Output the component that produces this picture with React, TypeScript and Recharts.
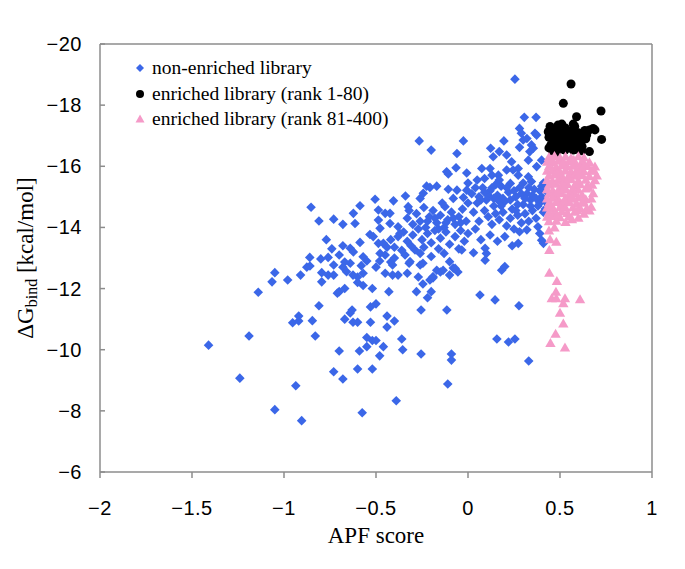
import React from 'react';
import { ScatterChart, Scatter, XAxis, YAxis, ReferenceLine } from 'recharts';

const xTicks = [-2, -1.5, -1, -0.5, 0, 0.5, 1];
const yTicks = [-20, -18, -16, -14, -12, -10, -8, -6];

const seriesNames = ['non-enriched library', 'enriched library (rank 1-80)', 'enriched library (rank 81-400)'];

// [APF score, dG bind]
const nonEnriched: [number, number][] = [
  [-1.41, -10.15], [-1.24, -9.07], [-1.19, -10.45], [-1.14, -11.88], [-1.065, -12.22], [-1.05, -12.52],
  [-1.05, -8.04], [-0.98, -12.28], [-0.953, -10.88], [-0.92, -10.94], [-0.92, -11.1], [-0.936, -8.82],
  [-0.904, -7.68], [-0.91, -12.44], [-0.876, -12.7], [-0.859, -12.74], [-0.846, -10.95], [-0.83, -10.45],
  [-0.81, -11.44], [-0.795, -12.52], [-0.795, -12.22], [-0.76, -12.44], [-0.8, -12.97], [-0.853, -14.66],
  [-0.81, -14.21], [-0.86, -13.02], [-0.76, -13.02], [-0.73, -9.28], [-0.74, -13.3], [-0.77, -13.6],
  [0.065, -11.79], [0.147, -11.63], [0.277, -11.44], [0.157, -10.35], [0.22, -10.25], [0.255, -10.35],
  [0.33, -9.63], [-0.115, -11.3], [-0.255, -11.3], [-0.255, -9.86], [-0.09, -9.86], [-0.09, -9.66],
  [-0.11, -8.88], [-0.39, -8.33], [-0.575, -7.94], [-0.36, -10.35], [-0.355, -10.0], [-0.48, -9.8],
  [-0.52, -9.37], [-0.6, -9.37], [-0.68, -9.04], [-0.7, -9.96], [-0.59, -9.96], [-0.55, -10.1],
  [-0.46, -10.1], [-0.55, -10.4], [-0.52, -10.3], [-0.5, -10.3], [-0.44, -10.74], [-0.4, -10.94],
  [-0.44, -11.1], [-0.53, -10.9], [-0.6, -10.9], [-0.625, -10.9], [-0.67, -11.0], [-0.63, -11.3],
  [-0.64, -11.2], [-0.53, -11.4], [-0.5, -11.5], [-0.43, -11.9], [-0.28, -11.9], [-0.2, -11.9],
  [-0.22, -11.7], [-0.7, -11.9], [-0.67, -12.0], [-0.71, -11.85], [-0.52, -12.0], [-0.57, -12.1],
  [-0.6, -12.2], [-0.1, -12.44], [-0.055, -12.54], [-0.08, -12.67], [-0.17, -12.6], [-0.15, -12.54],
  [-0.19, -12.35], [-0.26, -12.77], [-0.245, -12.83], [-0.27, -12.38], [-0.245, -12.15], [-0.45, -12.5],
  [-0.41, -12.44], [-0.38, -12.44], [-0.33, -12.5], [-0.32, -12.83], [-0.41, -12.77], [-0.42, -12.87],
  [-0.6, -12.38], [-0.57, -12.5], [-0.625, -12.44], [-0.73, -12.77], [-0.68, -12.7], [-0.64, -12.83],
  [-0.67, -12.87], [-0.73, -12.44],
  [-0.64, -13.32], [-0.623, -13.2], [-0.587, -13.51], [-0.57, -13.04], [-0.533, -13.77], [-0.515, -13.7],
  [-0.487, -13.48], [-0.46, -13.48], [-0.478, -13.15], [-0.45, -13.1], [-0.342, -13.1], [-0.315, -12.88],
  [-0.288, -13.26], [-0.26, -13.15], [-0.1, -12.88], [-0.135, -12.6], [-0.07, -12.66], [-0.207, -12.28],
  [-0.19, -12.39],
  [-0.42, -13.6], [-0.38, -13.7], [-0.35, -13.85], [-0.33, -13.55], [-0.3, -13.75], [-0.27, -13.95],
  [-0.25, -13.6], [-0.22, -13.8], [-0.2, -13.5], [-0.18, -13.9], [-0.15, -13.65], [-0.12, -13.85],
  [-0.1, -13.45], [-0.07, -13.7], [-0.04, -13.9], [-0.02, -13.55], [-0.4, -13.35], [-0.36, -13.25],
  [-0.31, -13.4], [-0.24, -13.35], [-0.16, -13.3], [-0.13, -13.15], [-0.05, -13.3], [-0.2, -13.05],
  [-0.265, -16.83], [-0.2, -16.53], [-0.025, -16.83], [-0.06, -16.42], [-0.116, -15.82], [-0.107, -15.75],
  [-0.065, -15.95], [-0.007, -15.78], [-0.225, -15.35], [-0.207, -15.31], [-0.17, -15.35], [-0.107, -15.25],
  [-0.26, -14.95], [-0.243, -15.12], [-0.34, -15.03], [-0.405, -14.87], [-0.325, -14.68], [-0.505, -14.92],
  [-0.487, -14.57], [-0.45, -14.46], [-0.424, -14.46], [-0.587, -14.71], [-0.623, -14.46], [-0.614, -14.13],
  [-0.68, -14.1], [-0.73, -14.27], [-0.487, -14.24], [-0.478, -13.97], [-0.424, -14.13], [-0.38, -14.02],
  [-0.37, -13.8], [-0.125, -14.68], [-0.08, -14.95], [-0.06, -15.22], [-0.025, -14.98], [-0.007, -15.22],
  [-0.33, -14.3], [-0.3, -14.1], [-0.28, -14.45], [-0.26, -14.2], [-0.23, -14.0], [-0.21, -14.35],
  [-0.19, -14.55], [-0.17, -14.15], [-0.15, -14.4], [-0.13, -14.0], [-0.11, -14.25], [-0.09, -14.5],
  [-0.07, -14.1], [-0.05, -14.35], [-0.03, -14.6], [-0.01, -14.2], [-0.32, -14.55], [-0.24, -14.65],
  [-0.14, -14.8],
  [0.255, -18.85], [0.306, -17.6], [0.37, -17.6], [0.28, -17.24], [0.29, -17.08], [0.364, -17.08],
  [0.373, -17.02], [0.3, -16.86], [0.32, -16.91], [0.345, -16.7], [0.355, -16.59], [0.336, -16.48],
  [0.195, -16.83], [0.123, -16.59], [0.137, -16.31], [0.17, -16.48], [0.21, -16.37], [0.28, -16.62],
  [0.237, -16.15], [0.273, -15.93], [0.328, -16.2], [0.373, -15.99], [0.4, -16.2], [0.075, -15.93],
  [0.12, -15.93], [0.13, -15.71], [0.165, -15.71], [0.21, -15.88], [0.245, -15.88], [0.273, -15.71],
  [0.17, -15.55], [0.23, -15.44], [0.328, -15.66], [0.345, -15.5], [0.273, -13.48], [0.28, -13.86],
  [0.32, -13.92], [0.38, -14.02], [0.39, -13.8], [0.4, -13.58], [0.41, -13.48], [-0.034, -13.26],
  [0.03, -13.17], [0.093, -13.32], [0.1, -13.15], [0.093, -12.93], [0.183, -12.6], [0.2, -12.72],
  [0.02, -15.1], [0.05, -14.8], [0.08, -15.3], [0.1, -14.9], [0.12, -15.2], [0.14, -14.7],
  [0.16, -15.05], [0.18, -15.35], [0.2, -14.85], [0.22, -15.15], [0.24, -14.6], [0.26, -15.0],
  [0.28, -15.3], [0.3, -14.75], [0.32, -15.1], [0.34, -14.9], [0.36, -15.25], [0.38, -14.7],
  [0.4, -15.0], [0.42, -14.85], [0.03, -14.5], [0.06, -14.2], [0.09, -14.55], [0.11, -14.35],
  [0.13, -14.1], [0.15, -14.45], [0.17, -14.25], [0.19, -14.5], [0.21, -14.05], [0.23, -14.3],
  [0.25, -13.95], [0.27, -14.4], [0.29, -14.15], [0.31, -14.45], [0.33, -14.2], [0.35, -14.55],
  [0.37, -14.3], [0.41, -14.5], [0.0, -13.8], [0.04, -13.95], [0.07, -13.6], [0.12, -13.75],
  [0.16, -13.55], [0.2, -13.7], [0.24, -13.4], [0.0, -14.8], [0.04, -15.3], [0.15, -15.4],
  [0.3, -15.45], [0.4, -15.35], [0.43, -15.15], [0.42, -14.6],
  [-0.68, -13.4], [-0.7, -13.1], [-0.66, -12.55], [-0.58, -12.75], [-0.55, -12.9], [-0.5, -12.7],
  [-0.48, -12.9], [-0.44, -13.35], [-0.4, -13.0], [0.0, -15.45], [0.05, -15.55], [0.09, -15.6],
  [0.25, -15.2], [0.35, -15.05], [0.19, -14.95], [0.31, -14.95], [0.11, -15.05], [0.39, -14.8],
  [0.13, -15.3], [0.17, -14.85], [0.21, -15.3], [0.23, -14.9], [0.27, -14.75], [0.29, -15.1],
  [0.33, -15.3], [0.37, -14.95], [0.39, -15.2], [0.41, -15.45], [0.07, -14.9], [0.09, -15.15],
  [0.34, -14.7], [0.26, -14.55], [0.18, -14.7], [0.42, -15.3], [0.14, -14.95], [0.06, -15.0],
  [-0.22, -14.2], [-0.18, -14.3], [-0.12, -14.15], [-0.08, -14.3], [-0.04, -14.15], [-0.16, -13.95],
];

const enrichedTop: [number, number][] = [
  [0.56, -18.69], [0.518, -18.06], [0.723, -17.81], [0.726, -16.88], [0.59, -17.62], [0.51, -17.38],
  [0.572, -17.38], [0.58, -17.3], [0.68, -17.24], [0.69, -17.19], [0.66, -17.19], [0.635, -17.17],
  [0.618, -17.02], [0.645, -17.02], [0.446, -17.3], [0.436, -17.13], [0.618, -16.51], [0.66, -16.48],
  [0.572, -16.53], [0.527, -16.53], [0.473, -16.59],
  [0.44, -16.95], [0.45, -16.7], [0.46, -17.05], [0.47, -16.85], [0.48, -17.2], [0.49, -16.65],
  [0.5, -16.95], [0.51, -17.1], [0.52, -16.8], [0.53, -17.0], [0.54, -16.7], [0.55, -17.15],
  [0.56, -16.9], [0.57, -17.05], [0.58, -16.75], [0.59, -16.95], [0.6, -17.1], [0.61, -16.8],
  [0.55, -16.6], [0.5, -16.75], [0.46, -16.5], [0.44, -16.6], [0.53, -17.25], [0.49, -17.35],
  [0.57, -17.2], [0.62, -16.65], [0.64, -16.9], [0.47, -17.1], [0.52, -16.55], [0.58, -16.55],
  [0.6, -16.7], [0.48, -16.45],
];

const enrichedRest: [number, number][] = [
  [0.44, -16.3], [0.47, -16.34], [0.5, -16.28], [0.53, -16.32], [0.56, -16.27], [0.6, -16.33], [0.63, -16.29],
  [0.43, -16.15], [0.46, -16.12], [0.49, -16.18], [0.52, -16.14], [0.55, -16.17], [0.58, -16.11], [0.62, -16.16], [0.66, -16.13],
  [0.44, -16.0], [0.48, -15.97], [0.51, -16.03], [0.54, -15.99], [0.57, -16.02], [0.61, -15.98], [0.65, -16.01], [0.69, -15.99],
  [0.43, -15.85], [0.46, -15.88], [0.5, -15.83], [0.53, -15.86], [0.56, -15.82], [0.59, -15.87], [0.63, -15.84], [0.67, -15.86],
  [0.44, -15.7], [0.47, -15.73], [0.51, -15.68], [0.55, -15.72], [0.58, -15.69], [0.62, -15.71], [0.66, -15.67], [0.7, -15.7],
  [0.43, -15.55], [0.46, -15.52], [0.49, -15.57], [0.52, -15.54], [0.56, -15.58], [0.6, -15.53], [0.64, -15.56], [0.69, -15.54],
  [0.44, -15.4], [0.48, -15.43], [0.51, -15.38], [0.54, -15.42], [0.58, -15.39], [0.61, -15.41], [0.65, -15.37],
  [0.43, -15.25], [0.46, -15.22], [0.5, -15.27], [0.53, -15.24], [0.57, -15.26], [0.6, -15.23], [0.64, -15.27], [0.68, -15.12],
  [0.44, -15.1], [0.47, -15.08], [0.51, -15.12], [0.55, -15.09], [0.58, -15.11], [0.62, -15.07], [0.67, -14.95],
  [0.43, -14.95], [0.46, -14.97], [0.49, -14.93], [0.53, -14.96], [0.56, -14.94], [0.6, -14.98], [0.64, -14.92],
  [0.44, -14.8], [0.48, -14.83], [0.51, -14.78], [0.55, -14.82], [0.59, -14.79], [0.63, -14.81], [0.67, -14.68],
  [0.43, -14.65], [0.46, -14.62], [0.5, -14.67], [0.53, -14.64], [0.57, -14.66], [0.61, -14.63], [0.66, -14.55],
  [0.44, -14.5], [0.47, -14.48], [0.51, -14.52], [0.54, -14.47], [0.58, -14.51], [0.63, -14.45],
  [0.43, -14.35], [0.46, -14.37], [0.5, -14.33], [0.55, -14.36], [0.6, -14.32],
  [0.44, -14.2], [0.48, -14.22], [0.53, -14.18], [0.44, -13.9], [0.47, -14.0],
  [0.455, -16.22], [0.515, -16.08], [0.575, -16.21], [0.635, -16.05], [0.485, -15.78], [0.545, -15.62],
  [0.605, -15.77], [0.455, -15.47], [0.525, -15.33], [0.595, -15.47], [0.655, -15.3], [0.485, -15.17],
  [0.565, -15.02], [0.625, -14.87], [0.455, -14.72], [0.525, -14.88], [0.595, -14.57], [0.485, -14.42],
  [0.565, -14.27], [0.645, -14.62], [0.675, -15.4], [0.685, -15.85],
  [0.446, -13.61], [0.48, -13.53], [0.442, -13.26], [0.442, -12.52], [0.483, -12.25], [0.478, -11.9],
  [0.455, -11.68], [0.48, -11.68], [0.527, -11.68], [0.518, -11.52], [0.609, -11.65], [0.5, -11.21],
  [0.518, -10.86], [0.476, -10.52], [0.448, -10.22], [0.527, -10.07],
];

const BLUE = '#3b67e8';
const BLACK = '#000000';
const PINK = '#f59ac8';
const AXIS = '#8c8c8c';

const toPoints = (arr: [number, number][]) => arr.map(([x, y]) => ({ x, y }));
const fmt = (v: number) => String(v).replace('-', '\u2212');

const Diamond = (p: any) => (
  <path d={`M${p.cx},${p.cy - 4.8}L${p.cx + 4.8},${p.cy}L${p.cx},${p.cy + 4.8}L${p.cx - 4.8},${p.cy}Z`} fill={BLUE} />
);
const Dot = (p: any) => <circle cx={p.cx} cy={p.cy} r={4.5} fill={BLACK} />;
const Tri = (p: any) => (
  <path d={`M${p.cx},${p.cy - 5}L${p.cx + 5.2},${p.cy + 4}L${p.cx - 5.2},${p.cy + 4}Z`} fill={PINK} />
);

const tickFont = { fontFamily: '"Liberation Sans", Arial, sans-serif', fontSize: 20, fill: '#000', letterSpacing: 0.5 };
const serif = '"Liberation Serif", "Times New Roman", serif';

const XTick = (p: any) => (
  <text x={p.x} y={515} textAnchor="middle" {...tickFont}>{fmt(p.payload.value)}</text>
);
const YTick = (p: any) => (
  <text x={82} y={p.y + 7} textAnchor="end" {...tickFont}>{fmt(p.payload.value)}</text>
);

const legendMarks = [
  <path key="d" d="M6,2L10,6L6,10L2,6Z" fill={BLUE} />,
  <circle key="c" cx={6} cy={6} r={4} fill={BLACK} />,
  <path key="t" d="M6,1.5L10.5,9.5L1.5,9.5Z" fill={PINK} />,
];
const legendRows = [68, 93.5, 119];

export default function App() {
  return (
    <div style={{ position: 'absolute', left: 0, top: 0, width: 685, height: 569, background: '#fff' }}>
      <ScatterChart width={685} height={569} margin={{ top: 44, right: 33, bottom: 37, left: 0 }}>
        <XAxis
          type="number"
          dataKey="x"
          domain={[-2, 1]}
          ticks={xTicks}
          height={60}
          stroke={AXIS}
          strokeWidth={1.5}
          tick={<XTick />}
          label={{ content: () => (
            <text x={376} y={543} textAnchor="middle" fontFamily={serif} fontSize={23} fill="#000">APF score</text>
          ) }}
        />
        <YAxis
          type="number"
          dataKey="y"
          domain={[-20, -6]}
          ticks={yTicks}
          reversed
          width={100}
          stroke={AXIS}
          strokeWidth={1.5}
          tickSize={-5}
          tick={<YTick />}
          label={{ content: () => (
            <text transform="translate(33,258) rotate(-90)" textAnchor="middle" fontFamily={serif} fontSize={23} fill="#000">
              <tspan>ΔG</tspan>
              <tspan fontSize={16} dy={4}>bind</tspan>
              <tspan dy={-4}> [kcal/mol]</tspan>
            </text>
          ) }}
        />
        <ReferenceLine x={1} stroke={AXIS} strokeWidth={1.5} />
        <ReferenceLine y={-20} stroke={AXIS} strokeWidth={1.5} />
        <Scatter name={seriesNames[0]} data={toPoints(nonEnriched)} shape={Diamond} isAnimationActive={false} />
        <Scatter name={seriesNames[1]} data={toPoints(enrichedTop)} shape={Dot} isAnimationActive={false} />
        <Scatter name={seriesNames[2]} data={toPoints(enrichedRest)} shape={Tri} isAnimationActive={false} />
      </ScatterChart>
      {seriesNames.map((name, i) => (
        <div
          key={name}
          style={{ position: 'absolute', left: 134, top: legendRows[i] - 12, height: 24, display: 'flex', alignItems: 'center', whiteSpace: 'nowrap' }}
        >
          <svg width={12} height={12} style={{ marginRight: 6 }}>{legendMarks[i]}</svg>
          <span style={{ fontFamily: serif, fontSize: 19.5, color: '#000' }}>{name}</span>
        </div>
      ))}
    </div>
  );
}
